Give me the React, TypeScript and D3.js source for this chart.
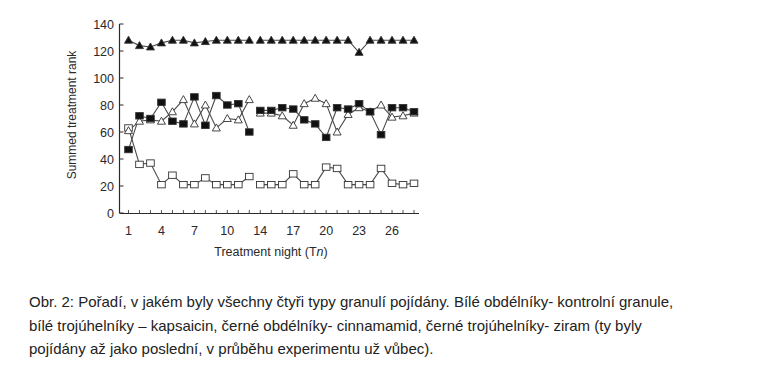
import { useEffect, useRef } from 'react';
import * as d3 from 'd3';

// treatment nights (night 13 is missing in the source figure)
const nights = [1, 2, 3, 4, 5, 6, 7, 8, 9, 10, 11, 12, 14, 15, 16, 17, 18, 19, 20, 21, 22, 23, 24, 25, 26, 27, 28];
const xTicks = [1, 4, 7, 10, 14, 17, 20, 23, 26];
const yTicks = [0, 20, 40, 60, 80, 100, 120, 140];

// black triangles - ziram
const ziram = [128, 124, 123, 126, 128, 128, 126, 127, 128, 128, 128, 128, 128, 128, 128, 128, 128, 128, 128, 128, 128, 119, 128, 128, 128, 128, 128];
// black squares - cinnamamid
const cinnamamid = [47, 72, 70, 82, 68, 66, 86, 65, 87, 80, 81, 60, 76, 76, 78, 77, 69, 66, 56, 78, 77, 81, 75, 58, 78, 78, 75];
// white triangles - capsaicin
const capsaicin = [61, 68, 69, 68, 75, 84, 66, 80, 63, 70, 69, 84, 74, 74, 72, 65, 81, 85, 81, 60, 73, 78, 75, 80, 71, 72, 74];
// white squares - control
const control = [63, 36, 37, 21, 28, 21, 21, 26, 21, 21, 21, 27, 21, 21, 21, 29, 21, 21, 34, 33, 21, 21, 21, 33, 22, 21, 22];

const captionLines = [
  'Obr. 2: Pořadí, v jakém byly všechny čtyři typy granulí pojídány. Bílé obdélníky- kontrolní granule,',
  'bílé trojúhelníky – kapsaicin, černé obdélníky- cinnamamid, černé trojúhelníky- ziram (ty byly',
  'pojídány až jako poslední, v průběhu experimentu už vůbec).',
];

export default function App() {
  const svgRef = useRef<SVGSVGElement>(null);

  useEffect(() => {
    if (!svgRef.current) return;
    const svg = d3.select(svgRef.current);
    svg.selectAll('*').remove();

    const font = '"Liberation Sans", Arial, sans-serif';
    const ink = '#2a2a2a';

    const x = d3.scalePoint<number>().domain(nights).range([128.5, 414]);
    const y = d3.scaleLinear().domain([0, 140]).range([213, 24]);

    const g = svg.append('g');

    // axes
    g.append('line').attr('x1', 119.5).attr('x2', 119.5).attr('y1', y(140)).attr('y2', y(0))
      .attr('stroke', ink).attr('stroke-width', 1.2);
    g.append('line').attr('x1', 119.5).attr('x2', 419).attr('y1', y(0) + 0.5).attr('y2', y(0) + 0.5)
      .attr('stroke', ink).attr('stroke-width', 1.2);

    yTicks.forEach(t => {
      g.append('line').attr('x1', 119.5).attr('x2', 123.5).attr('y1', y(t)).attr('y2', y(t))
        .attr('stroke', ink).attr('stroke-width', 1);
      g.append('text').attr('x', 114).attr('y', y(t) + 4.5).attr('text-anchor', 'end')
        .attr('font-family', font).attr('font-size', 12.5).attr('fill', ink).text(t);
    });

    nights.forEach(n => {
      g.append('line').attr('x1', x(n)!).attr('x2', x(n)!).attr('y1', y(0)).attr('y2', y(0) - 3)
        .attr('stroke', ink).attr('stroke-width', 0.8);
    });
    xTicks.forEach(t => {
      g.append('text').attr('x', x(t)!).attr('y', 235).attr('text-anchor', 'middle')
        .attr('font-family', font).attr('font-size', 12.5).attr('fill', ink).text(t);
    });

    const xt = g.append('text').attr('x', 271).attr('y', 256).attr('text-anchor', 'middle')
      .attr('font-family', font).attr('font-size', 12.5).attr('fill', ink);
    xt.append('tspan').text('Treatment night (T');
    xt.append('tspan').attr('font-style', 'italic').text('n');
    xt.append('tspan').text(')');

    g.append('text').attr('transform', `translate(76,115) rotate(-90)`).attr('text-anchor', 'middle')
      .attr('font-family', font).attr('font-size', 12).attr('fill', ink).text('Summed treatment rank');

    // line segments (broken where a night is missing)
    const segments: number[][] = [[]];
    nights.forEach((n, i) => {
      if (i > 0 && n - nights[i - 1] > 1) segments.push([]);
      segments[segments.length - 1].push(i);
    });

    const line = d3.line<[number, number]>().x(d => d[0]).y(d => d[1]);

    const series = [
      { values: control, shape: 'square', fill: '#fff' },
      { values: capsaicin, shape: 'triangle', fill: '#fff' },
      { values: cinnamamid, shape: 'square', fill: '#111' },
      { values: ziram, shape: 'triangle', fill: '#111' },
    ];

    series.forEach(s => {
      segments.forEach(seg => {
        g.append('path')
          .attr('d', line(seg.map(i => [x(nights[i])!, y(s.values[i])])))
          .attr('fill', 'none').attr('stroke', '#4a4a4a').attr('stroke-width', 1.1);
      });
    });

    series.forEach(s => {
      s.values.forEach((v, i) => {
        const cx = x(nights[i])!;
        const cy = y(v);
        if (s.shape === 'square') {
          g.append('rect').attr('x', cx - 3.8).attr('y', cy - 3.2).attr('width', 7.6).attr('height', 6.4)
            .attr('fill', s.fill).attr('stroke', '#333').attr('stroke-width', 0.9);
        } else {
          g.append('path').attr('d', `M${cx},${cy - 4} L${cx + 4},${cy + 3} L${cx - 4},${cy + 3} Z`)
            .attr('fill', s.fill).attr('stroke', '#333').attr('stroke-width', 0.9);
        }
      });
    });

    // caption
    captionLines.forEach((l, i) => {
      svg.append('text').attr('x', 29).attr('y', 307 + i * 23.5)
        .attr('font-family', font).attr('font-size', 15).attr('fill', '#222').text(l);
    });
  }, []);

  return (
    <svg ref={svgRef} width={780} height={389}
      style={{ position: 'absolute', left: 0, top: 0, background: '#fff' }} />
  );
}
